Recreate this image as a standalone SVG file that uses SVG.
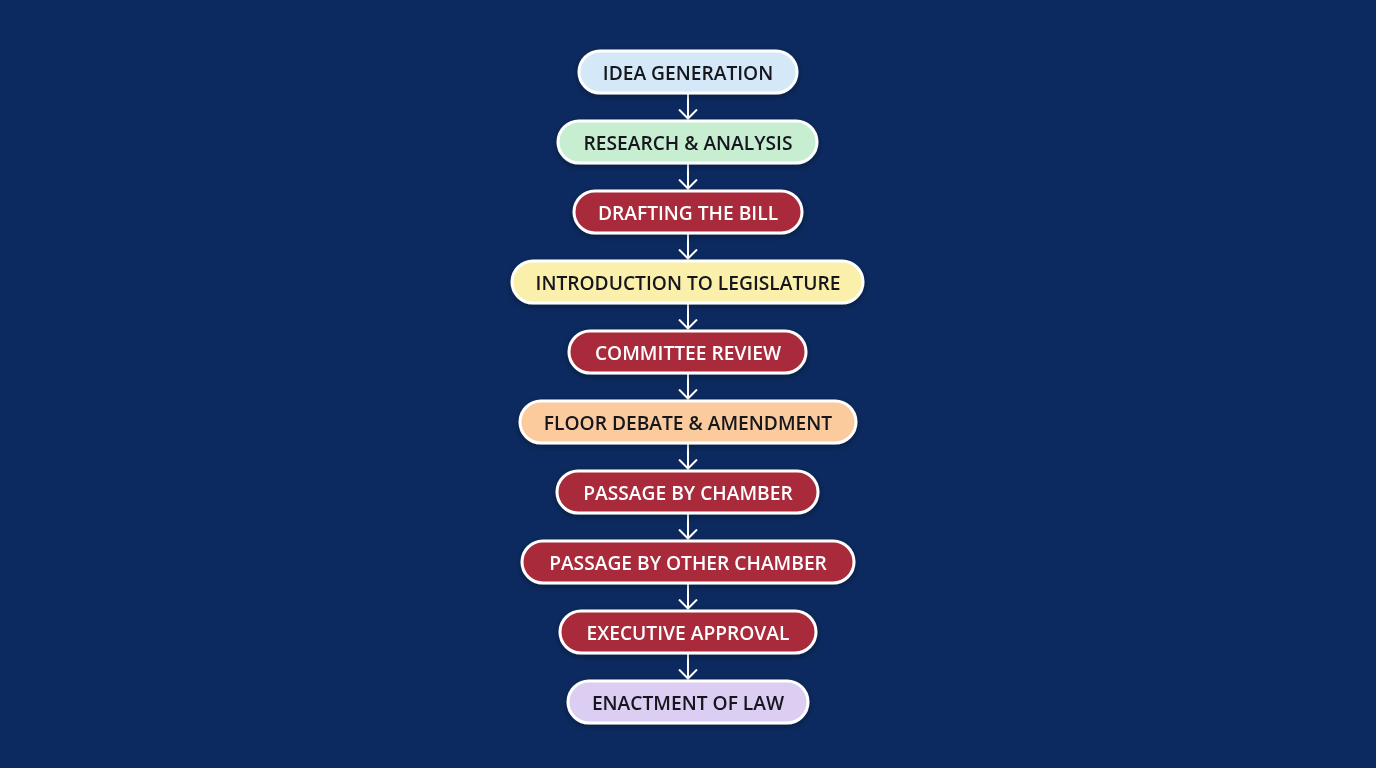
<svg xmlns="http://www.w3.org/2000/svg" width="1376" height="768" viewBox="0 0 1376 768">
<defs>
<style>
.box{stroke:#ffffff;stroke-width:3}
.lbl{font-family:"Open Sans","Liberation Sans",sans-serif;font-weight:600;font-size:19.2px;text-anchor:middle;dominant-baseline:central}
.dk{fill:#12161e}
.lt{fill:#ffffff}
.red{fill:#a82a3a}
.conn{stroke:#ffffff;stroke-width:2;fill:none}
</style>
<marker id="ah" viewBox="0 0 12 20" markerWidth="12" markerHeight="20" refX="10.5" refY="10" orient="auto" markerUnits="userSpaceOnUse">
<path d="M1,1 L10,10 L1,19" fill="none" stroke="#ffffff" stroke-width="2"/>
</marker>
<filter id="sh" x="-10%" y="-30%" width="120%" height="160%">
<feDropShadow dx="0" dy="2" stdDeviation="3" flood-color="#000000" flood-opacity="0.35"/>
</filter>
</defs>
<rect width="1376" height="768" fill="#0c2a5f"/>
<g id="connectors">
<line class="conn" x1="688" y1="94" x2="688" y2="119" marker-end="url(#ah)"/>
<line class="conn" x1="688" y1="164" x2="688" y2="189" marker-end="url(#ah)"/>
<line class="conn" x1="688" y1="234" x2="688" y2="259" marker-end="url(#ah)"/>
<line class="conn" x1="688" y1="304" x2="688" y2="329" marker-end="url(#ah)"/>
<line class="conn" x1="688" y1="374" x2="688" y2="399" marker-end="url(#ah)"/>
<line class="conn" x1="688" y1="444" x2="688" y2="469" marker-end="url(#ah)"/>
<line class="conn" x1="688" y1="514" x2="688" y2="539" marker-end="url(#ah)"/>
<line class="conn" x1="688" y1="584" x2="688" y2="609" marker-end="url(#ah)"/>
<line class="conn" x1="688" y1="654" x2="688" y2="679" marker-end="url(#ah)"/>
</g>
<g id="n1" filter="url(#sh)"><rect class="box" x="579" y="51" width="218" height="42" rx="21" fill="#d5e8f8"/><text class="lbl dk" x="688" y="72">IDEA GENERATION</text></g>
<g id="n2" filter="url(#sh)"><rect class="box" x="558" y="121" width="259" height="42" rx="21" fill="#c8eed2"/><text class="lbl dk" x="688" y="142">RESEARCH &amp; ANALYSIS</text></g>
<g id="n3" filter="url(#sh)"><rect class="box red" x="574" y="191" width="228" height="42" rx="21"/><text class="lbl lt" x="688" y="212">DRAFTING THE BILL</text></g>
<g id="n4" filter="url(#sh)"><rect class="box" x="512" y="261" width="351" height="42" rx="21" fill="#fbf0ab"/><text class="lbl dk" x="688" y="282">INTRODUCTION TO LEGISLATURE</text></g>
<g id="n5" filter="url(#sh)"><rect class="box red" x="569" y="331" width="237" height="42" rx="21"/><text class="lbl lt" x="688" y="352">COMMITTEE REVIEW</text></g>
<g id="n6" filter="url(#sh)"><rect class="box" x="520" y="401" width="336" height="42" rx="21" fill="#fbcb9e"/><text class="lbl dk" x="688" y="422">FLOOR DEBATE &amp; AMENDMENT</text></g>
<g id="n7" filter="url(#sh)"><rect class="box red" x="557" y="471" width="261" height="42" rx="21"/><text class="lbl lt" x="688" y="492">PASSAGE BY CHAMBER</text></g>
<g id="n8" filter="url(#sh)"><rect class="box red" x="522" y="541" width="332" height="42" rx="21"/><text class="lbl lt" x="688" y="562">PASSAGE BY OTHER CHAMBER</text></g>
<g id="n9" filter="url(#sh)"><rect class="box red" x="560" y="611" width="256" height="42" rx="21"/><text class="lbl lt" x="688" y="632">EXECUTIVE APPROVAL</text></g>
<g id="n10" filter="url(#sh)"><rect class="box" x="568" y="681" width="240" height="42" rx="21" fill="#dccdf2"/><text class="lbl dk" x="688" y="702">ENACTMENT OF LAW</text></g>
</svg>
